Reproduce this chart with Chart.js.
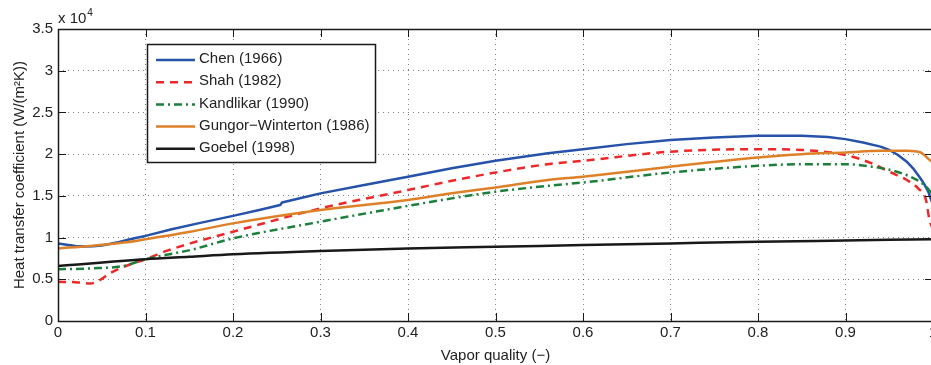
<!DOCTYPE html>
<html>
<head>
<meta charset="utf-8">
<script src="https://cdn.jsdelivr.net/npm/chart.js@4.4.1/dist/chart.umd.min.js"></script>
<style>
html,body{margin:0;padding:0;background:#fff;overflow:hidden;width:931px;height:365px;}
canvas{display:block;}
</style>
</head>
<body>
<canvas id="c" width="936" height="365"></canvas>
<script>
// Values are in units of x 10^4 W/(m^2K)
const xTicks = [0,0.1,0.2,0.3,0.4,0.5,0.6,0.7,0.8,0.9,1];
const yTicks = [0,0.5,1,1.5,2,2.5,3,3.5];

const chenX = [0,0.01,0.02,0.03,0.04,0.05,0.06,0.07,0.08,0.09,0.1,0.13,0.16,0.2,0.23,0.254,0.256,0.28,0.3,0.35,0.4,0.45,0.5,0.56,0.6,0.65,0.7,0.75,0.8,0.85,0.88,0.9,0.92,0.94,0.95,0.96,0.97,0.978,0.985,0.99,0.995,0.998,1];
const chenY = [0.93,0.915,0.90,0.893,0.895,0.905,0.925,0.948,0.975,0.998,1.02,1.10,1.17,1.26,1.33,1.39,1.42,1.48,1.53,1.63,1.73,1.83,1.92,2.01,2.06,2.12,2.17,2.20,2.22,2.22,2.205,2.18,2.14,2.09,2.05,1.99,1.91,1.82,1.72,1.64,1.54,1.45,1.40];

const shahX = [0,0.02,0.037,0.046,0.059,0.075,0.1,0.124,0.151,0.2,0.3,0.4,0.45,0.5,0.56,0.6,0.7,0.8,0.85,0.9,0.93,0.95,0.97,0.983,0.992,0.996,1];
const shahY = [0.47,0.465,0.45,0.48,0.57,0.65,0.74,0.84,0.93,1.07,1.35,1.57,1.68,1.78,1.88,1.92,2.03,2.06,2.05,1.99,1.89,1.79,1.69,1.59,1.45,1.21,1.10];

const kandX = [0,0.037,0.075,0.1,0.132,0.151,0.2,0.3,0.4,0.45,0.5,0.56,0.6,0.7,0.8,0.85,0.9,0.93,0.955,0.978,0.99,0.997,1];
const kandY = [0.62,0.63,0.66,0.74,0.81,0.85,0.99,1.19,1.38,1.47,1.55,1.62,1.66,1.78,1.86,1.88,1.88,1.85,1.80,1.71,1.63,1.55,1.50];

const gungX = [0,0.037,0.075,0.1,0.151,0.2,0.3,0.4,0.45,0.5,0.56,0.6,0.7,0.8,0.85,0.9,0.94,0.97,0.986,0.995,1];
const gungY = [0.87,0.90,0.94,0.98,1.07,1.17,1.33,1.45,1.53,1.60,1.69,1.73,1.85,1.96,2.00,2.02,2.04,2.04,2.02,1.94,1.90];

const goebX = [0,0.1,0.15,0.2,0.3,0.4,0.5,0.6,0.7,0.8,0.9,1];
const goebY = [0.66,0.74,0.77,0.80,0.84,0.87,0.89,0.91,0.93,0.95,0.965,0.98];

const labels = ['Chen (1966)','Shah (1982)','Kandlikar (1990)','Gungor\u2212Winterton (1986)','Goebel (1998)'];

const FONT = "'Liberation Sans', Arial, Helvetica, sans-serif";

function pts(xs, ys){ return xs.map((x,i)=>({x:x, y:ys[i]})); }

const series = [
  {label:labels[0], data:pts(chenX,chenY), borderColor:'rgb(38,82,170)', borderDash:[], order:5, cubicInterpolationMode:'default', tension:0},
  {label:labels[1], data:pts(shahX,shahY), borderColor:'rgb(236,40,40)', borderDash:[8,6], order:4},
  {label:labels[2], data:pts(kandX,kandY), borderColor:'rgb(28,128,60)', borderDash:[8,4,2,4], order:3},
  {label:labels[3], data:pts(gungX,gungY), borderColor:'rgb(221,128,40)', borderDash:[], order:2},
  {label:labels[4], data:pts(goebX,goebY), borderColor:'rgb(25,25,25)', borderDash:[], order:1}
].map(d=>Object.assign({
  showLine:true, pointRadius:0, borderWidth:2.5, fill:false,
  cubicInterpolationMode:'monotone', borderCapStyle:'butt', borderJoinStyle:'round'
}, d));

const boxPlugin = {
  id:'boxPlugin',
  afterDatasetsDraw(chart){
    const ctx = chart.ctx;
    const {left,right,top,bottom} = chart.chartArea;
    const xs = chart.scales.x, ys = chart.scales.y;
    ctx.save();
    ctx.strokeStyle = '#1a1a1a';
    ctx.lineWidth = 1;
    ctx.setLineDash([]);
    ctx.beginPath();
    xTicks.forEach(v=>{
      const px = Math.round(xs.getPixelForValue(v))+0.5;
      ctx.moveTo(px,bottom); ctx.lineTo(px,bottom-8);
      ctx.moveTo(px,top); ctx.lineTo(px,top+8);
    });
    yTicks.forEach(v=>{
      const py = Math.round(ys.getPixelForValue(v))+0.5;
      ctx.moveTo(left,py); ctx.lineTo(left+8,py);
      ctx.moveTo(right,py); ctx.lineTo(right-8,py);
    });
    ctx.stroke();
    ctx.lineWidth = 1.5;
    ctx.strokeRect(Math.round(left)+0.5, Math.round(top)+0.5, Math.round(right-left), Math.round(bottom-top));
    ctx.restore();
  },
  afterDraw(chart){
    const ctx = chart.ctx;
    const {left} = chart.chartArea;
    ctx.save();
    ctx.fillStyle = '#222';
    ctx.font = '15px ' + FONT;
    ctx.textBaseline = 'alphabetic';
    ctx.textAlign = 'left';
    ctx.fillText('x 10', left, 23);
    const w = ctx.measureText('x 10').width;
    ctx.font = '10px ' + FONT;
    ctx.fillText('4', left + w + 1, 16);
    // legend
    const bx = 147.5, by = 44.5, bw = 228, bh = 118;
    ctx.fillStyle = '#fff';
    ctx.fillRect(bx, by, bw, bh);
    ctx.strokeStyle = '#1a1a1a';
    ctx.lineWidth = 1.5;
    ctx.strokeRect(bx, by, bw, bh);
    ctx.font = '15px ' + FONT;
    ctx.textBaseline = 'middle';
    chart.data.datasets.forEach((d,i)=>{
      const yy = 60 + i*22.2;
      ctx.strokeStyle = d.borderColor;
      ctx.lineWidth = d.borderWidth;
      ctx.setLineDash(d.borderDash);
      ctx.beginPath();
      ctx.moveTo(156, yy); ctx.lineTo(195, yy);
      ctx.stroke();
      ctx.setLineDash([]);
      ctx.fillStyle = '#222';
      ctx.fillText(d.label, 199, yy - 1);
    });
    ctx.restore();
  }
};

new Chart(document.getElementById('c'), {
  type:'scatter',
  data:{datasets:series},
  options:{
    responsive:false,
    animation:false,
    devicePixelRatio:1,
    layout:{padding:{top:29, right:3, left:0, bottom:0}},
    plugins:{legend:{display:false}, tooltip:{enabled:false}},
    scales:{
      x:{
        type:'linear', min:0, max:1,
        afterBuildTicks:s=>{ s.ticks = xTicks.map(v=>({value:v})); },
        afterFit:s=>{ s.height = 44; s.paddingLeft = 0; s.paddingRight = 0; },
        ticks:{color:'#222', font:{family:FONT, size:15}, padding:3, maxRotation:0, autoSkip:false,
          callback:v=>String(+v.toFixed(1))},
        grid:{color:'rgba(0,0,0,0.5)', lineWidth:1, drawTicks:false},
        border:{display:false, dash:[1,4]},
        title:{display:true, text:'Vapor quality (\u2212)', color:'#222', font:{family:FONT, size:15}, padding:{top:4, bottom:0}}
      },
      y:{
        type:'linear', min:0, max:3.5,
        afterBuildTicks:s=>{ s.ticks = yTicks.map(v=>({value:v})); },
        afterFit:s=>{ s.width = 58; },
        ticks:{color:'#222', font:{family:FONT, size:15}, padding:5, autoSkip:false,
          callback:v=>String(+v.toFixed(1))},
        grid:{color:'rgba(0,0,0,0.5)', lineWidth:1, drawTicks:false},
        border:{display:false, dash:[1,4]},
        title:{display:true, text:'Heat transfer coefficient (W/(m\u00B2K))', color:'#222', font:{family:FONT, size:15}, padding:{top:11, bottom:0}}
      }
    }
  },
  plugins:[boxPlugin]
});
</script>
</body>
</html>
